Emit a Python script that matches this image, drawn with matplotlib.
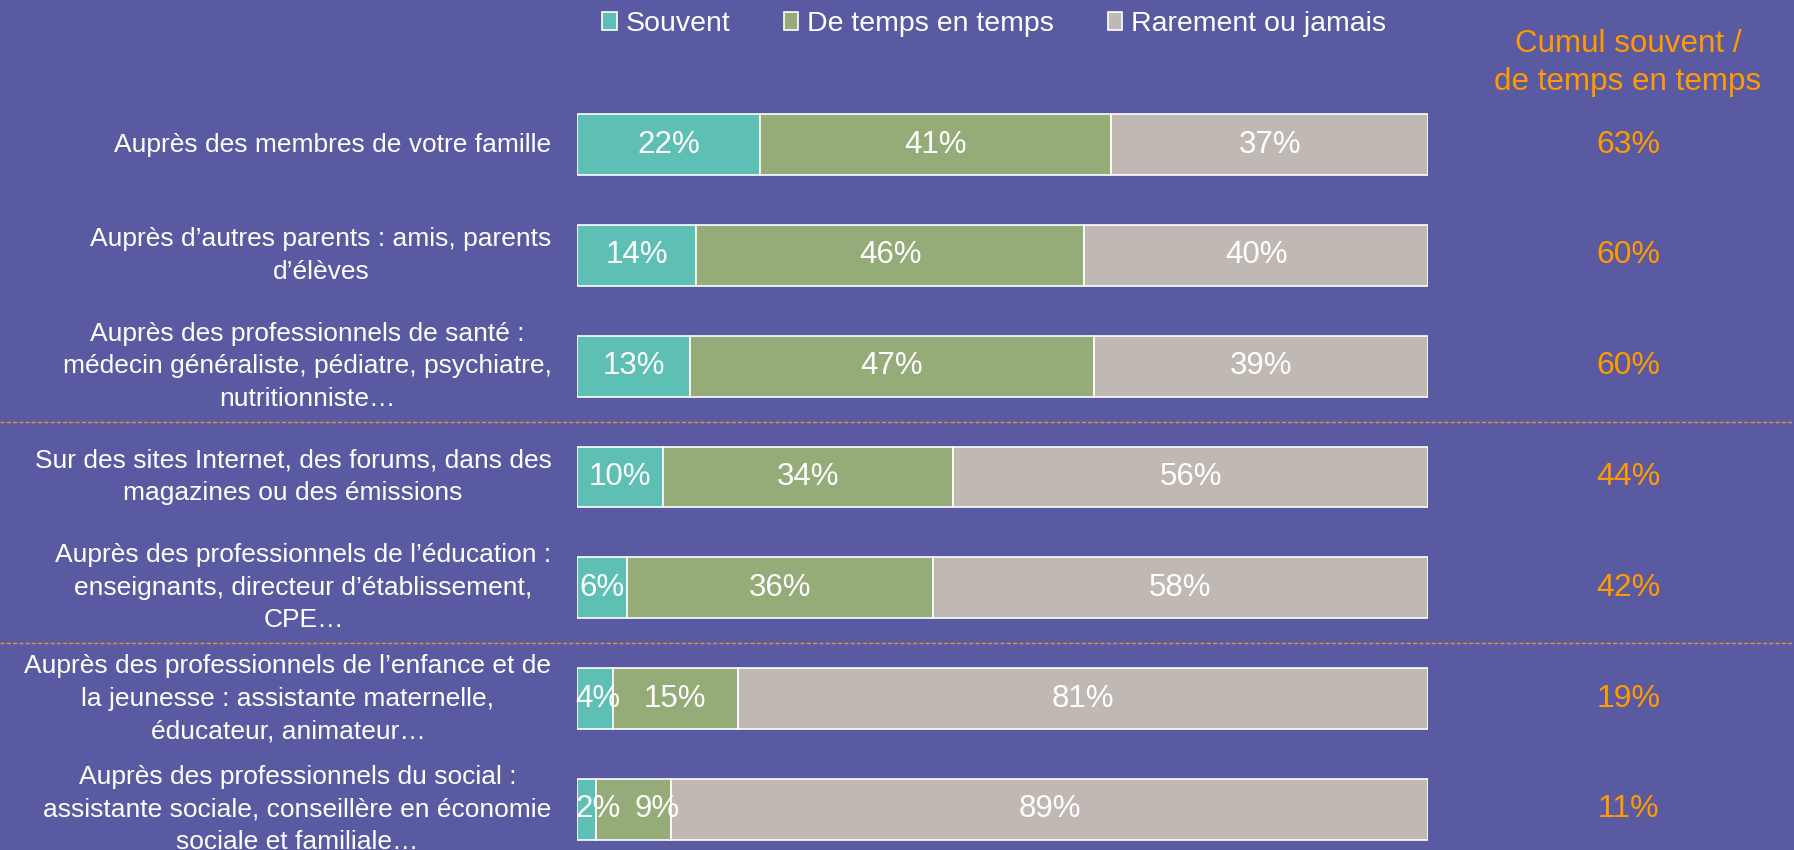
import matplotlib
matplotlib.use("Agg")
import matplotlib.pyplot as plt
from matplotlib.patches import Patch
from matplotlib.transforms import blended_transform_factory, Affine2D

plt.rcParams["font.family"] = ["Liberation Sans", "DejaVu Sans"]

# ── data ──────────────────────────────────────────────────────────────────────
categories = [
    "Auprès des membres de votre famille",
    "Auprès d’autres parents : amis, parents\nd’élèves",
    "Auprès des professionnels de santé :\nmédecin généraliste, pédiatre, psychiatre,\nnutritionniste…",
    "Sur des sites Internet, des forums, dans des\nmagazines ou des émissions",
    "Auprès des professionnels de l’éducation :\nenseignants, directeur d’établissement,\nCPE…",
    "Auprès des professionnels de l’enfance et de\nla jeunesse : assistante maternelle,\néducateur, animateur…",
    "Auprès des professionnels du social :\nassistante sociale, conseillère en économie\nsociale et familiale…",
]
souvent = [21.5, 14.0, 13.3, 10.1, 5.9, 4.2, 2.2]
de_temps = [41.3, 45.6, 47.4, 34.1, 35.9, 14.7, 8.9]
rarement = [37.2, 40.4, 39.3, 55.8, 58.2, 81.1, 88.9]
cumul = [63, 60, 60, 44, 42, 19, 11]

series_names = ["Souvent", "De temps en temps", "Rarement ou jamais"]
series_vals = [souvent, de_temps, rarement]
series_cols = ["#5EBFB5", "#95AB78", "#C0B8B3"]

BG = "#5A5AA3"
ORANGE = "#FF9A00"

# ── figure ────────────────────────────────────────────────────────────────────
W, H = 1794, 850
fig = plt.figure(figsize=(W / 100, H / 100), dpi=100, facecolor=BG)

# bar area in pixels: x 577..1428, row centres 144.5 + i*110.83
step = 110.83
top_px = 144.5 - step / 2
ax = fig.add_axes([577 / W, (H - (top_px + 7 * step)) / H, 851 / W, 7 * step / H])
ax.set_facecolor(BG)
ax.set_xlim(0, 100)
ax.set_ylim(6.5, -0.5)
ax.set_axis_off()

ypos = list(range(len(categories)))
left = [0.0] * len(categories)
for name, vals, col in zip(series_names, series_vals, series_cols):
    ax.barh(ypos, vals, left=left, height=0.55, color=col,
            edgecolor="white", linewidth=1.2, label=name)
    left = [l + v for l, v in zip(left, vals)]

# in-bar labels (centred; pushed right when they would overlap)
fig.canvas.draw()
renderer = fig.canvas.get_renderer()
gap_px = 14
for i in ypos:
    start = 0.0
    prev_right = ax.transData.transform((0, i))[0] - 2
    for vals in series_vals:
        v = vals[i]
        t = ax.text(start + v / 2, i, f"{v:.0f}%", ha="center", va="center",
                    fontsize=22.5, color="white", clip_on=False)
        bb = t.get_window_extent(renderer)
        lim = prev_right + (gap_px if start > 0 else 0)
        if bb.x0 < lim:
            shift = lim - bb.x0
            t.set_transform(ax.transData + Affine2D().translate(shift, 0))
            prev_right = bb.x1 + shift
        else:
            prev_right = bb.x1
        start += v

# category labels
for i, lab in enumerate(categories):
    ax.text(-3.0, i, lab, ha="right", va="center", multialignment="center",
            fontsize=19, color="white", linespacing=1.44, clip_on=False)

# cumulative column
for i, c in enumerate(cumul):
    ax.text(123.6, i, f"{c}%", ha="center", va="center",
            fontsize=23, color=ORANGE, clip_on=False)
fig.text(1628 / W, 1 - 63 / H, "Cumul souvent /\nde temps en temps",
         ha="center", va="center", fontsize=22.6, color=ORANGE, linespacing=1.33)

# dashed separators across full width
tr = blended_transform_factory(fig.transFigure, ax.transData)
for yy in [2.5, 4.5]:
    ax.plot([0, 1], [yy, yy], transform=tr, color="#E8922E", lw=1.0,
            ls=(0, (3, 1.5)), clip_on=False)

# legend
handles = [Patch(facecolor=c, edgecolor="white", linewidth=1.2, label=n)
           for n, c in zip(series_names, series_cols)]
fig.legend(handles=handles, ncol=3, loc="center", bbox_to_anchor=(994 / W, 1 - 24 / H),
           frameon=False, fontsize=20.5, labelcolor="white",
           handlelength=0.5, handleheight=0.55, handletextpad=0.3,
           columnspacing=1.9, borderaxespad=0)

fig.savefig("out.png", dpi=100, facecolor=BG)
